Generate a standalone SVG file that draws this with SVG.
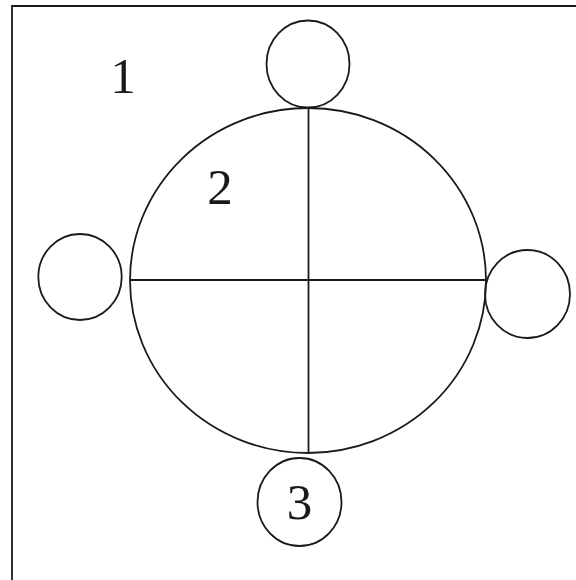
<svg xmlns="http://www.w3.org/2000/svg" width="576" height="580" viewBox="0 0 576 580">
<style>
.s{fill:none;stroke:#1a1a1a;stroke-width:1.8}
.t{font-family:"Liberation Serif","Times New Roman",serif;font-size:51px;fill:#1a1a1a;text-anchor:middle}
</style>
<rect width="576" height="580" fill="#ffffff"/>
<g id="frame"><path class="s" d="M12,580 L12,6 L576,6" stroke-width="2.2"/></g>
<text class="t" x="123" y="93">1</text>
<g id="main">
<ellipse class="s" cx="308" cy="280.5" rx="178" ry="172.5"/>
<text class="t" x="220" y="204">2</text>
</g>
<g id="connectors">
<line class="s" x1="130" y1="280" x2="486" y2="280"/>
<line class="s" x1="308.5" y1="108" x2="308.5" y2="453"/>
</g>
<g id="top"><ellipse class="s" cx="308" cy="64" rx="41.5" ry="43.5"/></g>
<g id="left"><ellipse class="s" cx="80" cy="277" rx="41.7" ry="43"/></g>
<g id="right"><ellipse class="s" cx="527.5" cy="294" rx="42.5" ry="44"/></g>
<g id="bottom"><ellipse class="s" cx="299.5" cy="502" rx="42" ry="44"/>
<text class="t" x="299.5" y="519">3</text></g>
</svg>
